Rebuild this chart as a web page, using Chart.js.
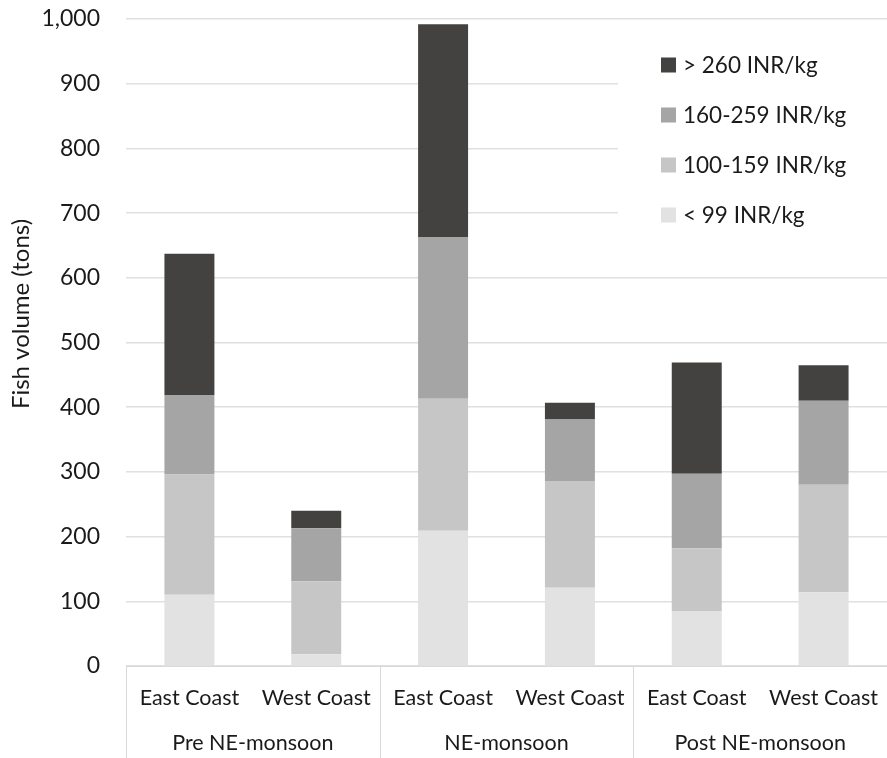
<!DOCTYPE html>
<html>
<head>
<meta charset="utf-8">
<script src="https://cdn.jsdelivr.net/npm/chart.js@4.4.1/dist/chart.umd.min.js"></script>
<style>
  html, body { margin: 0; padding: 0; background: #ffffff; }
  #wrap { width: 887px; height: 758px; position: relative; }
</style>
</head>
<body>
<div id="wrap"><canvas id="c" width="887" height="758"></canvas></div>
<script>
// Coast categories and their seasonal groups
const coasts = ["East Coast", "West Coast", "East Coast", "West Coast", "East Coast", "West Coast"];
const seasons = ["Pre NE-monsoon", "NE-monsoon", "Post NE-monsoon"];

// Fish volume (tons) by price class
const below99 = [110, 18, 209, 121, 85, 114];
const from100to159 = [186, 113, 204, 165, 97, 166];
const from160to259 = [123, 82, 250, 95, 115, 130];
const above260 = [218, 27, 329, 26, 172, 55];

const yTicks = [0, 100, 200, 300, 400, 500, 600, 700, 800, 900, 1000];
const yTitle = "Fish volume (tons)";

const FONT = "Lato, 'Open Sans', sans-serif";
const TEXT = "#1a1a1a";

const seriesDefs = [
  { label: "< 99 INR/kg", data: below99, color: "#e2e2e2" },
  { label: "100-159 INR/kg", data: from100to159, color: "#c6c6c6" },
  { label: "160-259 INR/kg", data: from160to259, color: "#a5a5a5" },
  { label: "> 260 INR/kg", data: above260, color: "#434241" }
];

// Season group labels and separators under the coast labels, plus the y title
const groupAxis = {
  id: "groupAxis",
  afterDraw(chart) {
    const ctx = chart.ctx;
    const x = chart.scales.x;
    const area = chart.chartArea;
    const half = (x.getPixelForValue(1) - x.getPixelForValue(0)) / 2;
    ctx.save();
    ctx.strokeStyle = "#d9d9d9";
    ctx.lineWidth = 1;
    for (let g = 0; g <= seasons.length; g++) {
      const idx = g * 2;
      const px = Math.round(x.getPixelForValue(idx) - half) + 0.5;
      ctx.beginPath();
      ctx.moveTo(px, area.bottom);
      ctx.lineTo(px, chart.height);
      ctx.stroke();
    }
    ctx.fillStyle = TEXT;
    ctx.font = "21.5px " + FONT;
    ctx.textAlign = "center";
    ctx.textBaseline = "middle";
    seasons.forEach((s, g) => {
      const cx = (x.getPixelForValue(g * 2) + x.getPixelForValue(g * 2 + 1)) / 2;
      ctx.fillText(s, cx, 743);
    });

    // rotated value-axis title
    ctx.translate(21, 314);
    ctx.rotate(-Math.PI / 2);
    ctx.font = "24px " + FONT;
    ctx.fillText(yTitle, 0, 0);
    ctx.restore();
  }
};

// Legend box in the upper right of the plot, top entry is the highest class
const boxLegend = {
  id: "boxLegend",
  afterDatasetsDraw(chart) {
    const ctx = chart.ctx;
    const area = chart.chartArea;
    const left = 618;
    ctx.save();
    ctx.fillStyle = "#ffffff";
    ctx.fillRect(left, 40, area.right - left, 205);
    ctx.font = "22.5px " + FONT;
    ctx.textBaseline = "middle";
    ctx.textAlign = "left";
    const items = chart.data.datasets.slice().reverse();
    items.forEach((ds, i) => {
      const cy = 65 + i * 50;
      ctx.fillStyle = ds.backgroundColor;
      ctx.fillRect(661, cy - 7.5, 15, 15);
      ctx.fillStyle = TEXT;
      ctx.fillText(ds.label, 683, cy + 1);
    });
    ctx.restore();
  }
};

new Chart(document.getElementById("c"), {
  type: "bar",
  data: {
    labels: coasts,
    datasets: seriesDefs.map(s => ({
      label: s.label,
      data: s.data,
      backgroundColor: s.color,
      borderWidth: 0,
      categoryPercentage: 1,
      barPercentage: 0.394
    }))
  },
  options: {
    responsive: false,
    animation: false,
    layout: { padding: { top: 19, right: 0, left: 0, bottom: 0 } },
    plugins: {
      legend: { display: false },
      tooltip: { enabled: false }
    },
    scales: {
      x: {
        stacked: true,
        grid: { display: false },
        border: { display: true, color: "#d9d9d9", width: 1 },
        ticks: {
          color: TEXT,
          font: { family: FONT, size: 21.5 },
          padding: 11,
          maxRotation: 0
        },
        afterFit(scale) {
          scale.height = 92;
          scale.paddingLeft = 0;
          scale.paddingRight = 0;
        }
      },
      y: {
        stacked: true,
        min: 0,
        max: 1000,
        afterBuildTicks(scale) { scale.ticks = yTicks.map(v => ({ value: v })); },
        grid: { color: "#e0e0e0", lineWidth: 1.5, drawTicks: false },
        border: { display: false },
        ticks: {
          color: TEXT,
          font: { family: FONT, size: 23 },
          padding: 26,
          callback: v => v.toLocaleString("en-US")
        },
        title: { display: false },
        afterFit(scale) {
          scale.width = 126;
          scale.paddingTop = 0;
          scale.paddingBottom = 0;
        }
      }
    }
  },
  plugins: [groupAxis, boxLegend]
});
</script>
</body>
</html>
